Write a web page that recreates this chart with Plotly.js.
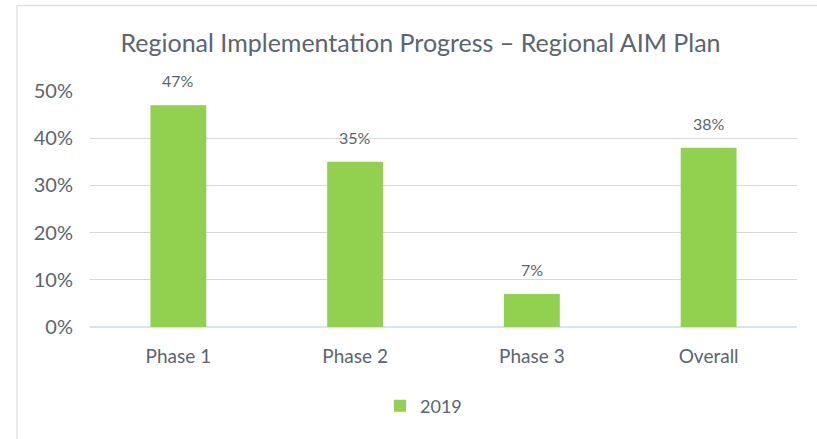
<!DOCTYPE html>
<html><head><meta charset="utf-8">
<script src="https://cdn.plot.ly/plotly-3.0.1.min.js"></script>
<style>html,body{margin:0;padding:0;background:#fff;}#chart{width:817px;height:439px;}</style>
</head><body><div id="chart"></div>
<script>
const categories = ["Phase 1", "Phase 2", "Phase 3", "Overall"];
const values2019 = [0.47, 0.35, 0.07, 0.38];
const valueLabels = ["47%", "35%", "7%", "38%"];
const seriesName = "2019";
const yTickVals = [0, 0.1, 0.2, 0.3, 0.4, 0.5];
const yTickText = ["0%", "10%", "20%", "30%", "40%", "50%"];

const txt = "#5A6570";
const font = "Lato, 'Open Sans', sans-serif";
const W = 817, H = 439;
const m = {l: 90, r: 20, t: 91, b: 112};
const pw = W - m.l - m.r, ph = H - m.t - m.b;
const px = x => (x - m.l) / pw, py = y => (H - m.b - y) / ph;

const labelAnnotations = categories.map((c, i) => ({
  x: c, y: values2019[i], xref: "x", yref: "y", text: valueLabels[i],
  showarrow: false, yanchor: "bottom", yshift: 13,
  font: {family: font, size: 16, color: txt}
}));

Plotly.newPlot("chart", [{
  type: "bar", x: categories, y: values2019, name: seriesName,
  marker: {color: "#92D050"}, hoverinfo: "none"
}], {
  width: W, height: H, margin: m,
  paper_bgcolor: "#fff", plot_bgcolor: "#fff",
  font: {family: font, color: txt},
  title: {text: "Regional Implementation Progress – Regional AIM Plan",
    font: {family: font, size: 25, color: txt}, x: 420.5 / W, xanchor: "center", y: 1 - 43/H, yanchor: "middle"},
  bargap: 0.684,
  xaxis: {tickfont: {size: 19, color: txt}, showline: false, ticks: "", showgrid: false,
    ticklabelstandoff: 16, fixedrange: true},
  yaxis: {range: [0, 0.5], tickvals: yTickVals, ticktext: yTickText, tickfont: {size: 20, color: txt},
    gridcolor: "#D9D9D9", gridwidth: 1, zeroline: true, zerolinecolor: "#D6E4F0", zerolinewidth: 2,
    showline: false, ticks: "", ticklabelstandoff: 16, fixedrange: true},
  showlegend: true,
  legend: {orientation: "h", x: px(380), xanchor: "left", y: py(406), yanchor: "middle",
    font: {size: 18, color: txt}},
  annotations: labelAnnotations,
  shapes: [
    {type: "line", xref: "paper", yref: "paper", x0: px(17), x1: px(817), y0: py(5.5), y1: py(5.5),
      line: {color: "#E3E3E3", width: 1.5}},
    {type: "line", xref: "paper", yref: "paper", x0: px(17), x1: px(17), y0: py(5), y1: py(440),
      line: {color: "#E3E3E3", width: 1.5}}
  ]
}, {displayModeBar: false, staticPlot: true});
</script></body></html>
